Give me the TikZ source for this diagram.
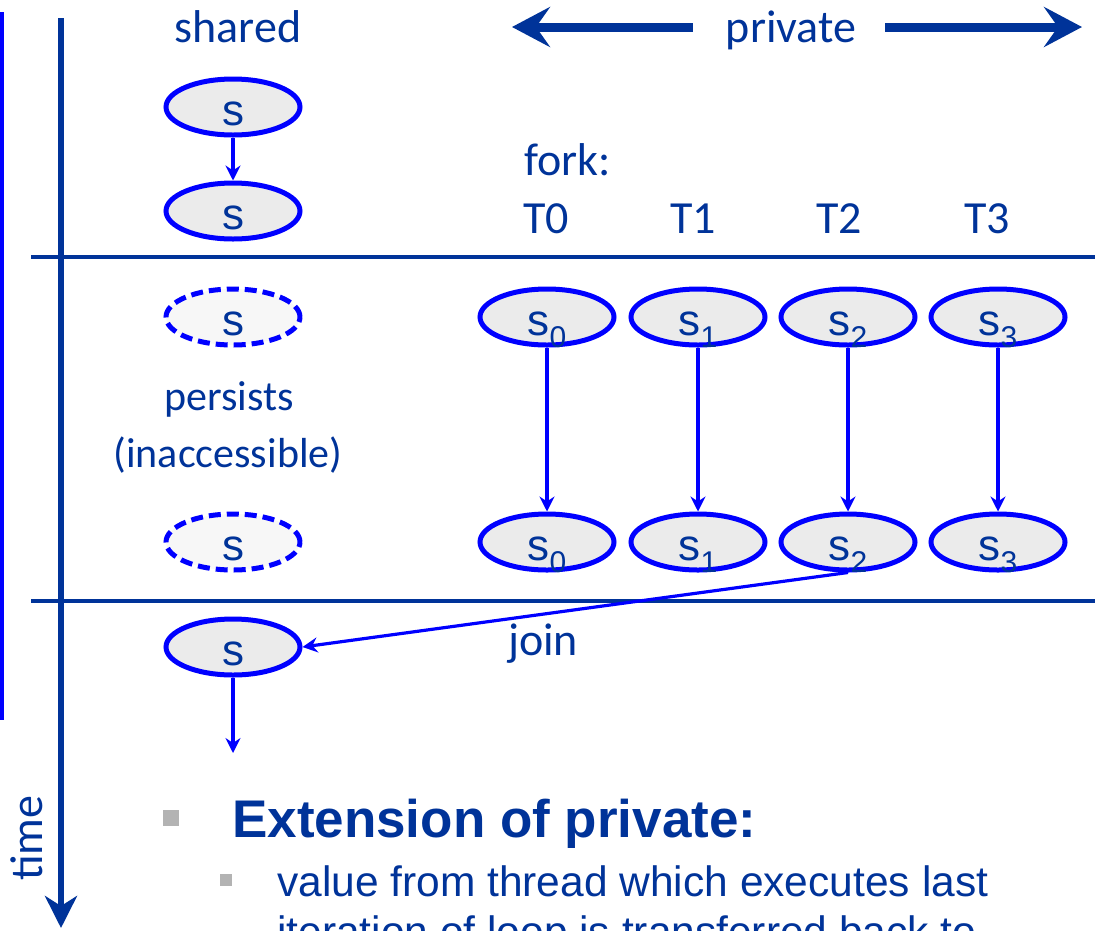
\documentclass[tikz,border=0pt]{standalone}
\usepackage{fontspec}
\setmainfont{Carlito}
\newfontfamily\arialfont{Liberation Sans}
\usepackage{xcolor}
\usepackage{tikz}
\usetikzlibrary{shapes,arrows.meta}
\usetikzlibrary{positioning}
\tikzset{>=Stealth}
\definecolor{dkblue}{RGB}{0,51,153}
\definecolor{varfill}{RGB}{235,235,235}
\definecolor{ghostfill}{RGB}{247,247,247}
\definecolor{bulletgray}{RGB}{179,179,179}
\newcommand{\ssub}[1]{s\smash{\raisebox{-12pt}{\fontsize{30}{30}\selectfont #1}}}

\begin{document}
\begin{tikzpicture}[x=1pt,y=-1pt,
      var/.style={ellipse,
      draw=blue,
      line width=5pt,
      fill=varfill,
      inner sep=0pt,
      minimum width=134pt,
      minimum height=56pt,
      text height=37pt, text depth=0pt,
      text=dkblue,
      font=\arialfont\fontsize{44}{44}\selectfont},
      ghost/.style={var, dash pattern=on 12pt off 6pt, fill=ghostfill},
      label/.style={text=dkblue, inner sep=0pt, font=\fontsize{46}{46}\selectfont},
      line/.style={draw=blue, line width=3.2pt, -{Stealth[length=15pt,width=15pt,inset=5pt]}},
      rule/.style={draw=dkblue, line width=3.5pt},
      axis/.style={draw=dkblue, line width=6pt, -{Stealth[length=32pt,width=32pt,inset=10pt]}},
      bigarrow/.style={draw=dkblue, line width=9pt, -{Stealth[length=38pt,width=40pt,inset=14pt]}},
      bullet/.style={fill=bulletgray, draw=none, inner sep=0pt}]
    \clip (0,0) rectangle (1095,930);
    %% axes and rules
    \coordinate (b0) at (2,12);
    \coordinate (b1) at (2,720);
    \draw [draw=blue, line width=4pt] (b0) -- (b1);
    \coordinate (t0) at (61,18);
    \coordinate (t1) at (61,928);
    \path [axis] (t0) -- (t1);
    \node [label, rotate=90] (time) at (27,838) {time};
    \coordinate (r1a) at (31,257);
    \coordinate (r1b) at (1095,257);
    \coordinate (r2a) at (31,601);
    \coordinate (r2b) at (1095,601);
    \path [rule] (r1a) -- (r1b);
    \path [rule] (r2a) -- (r2b);
    %% headings
    \node [label, anchor=base] (shared) at (238,42) {shared};
    \node [label, anchor=base] (priv) at (791,42) {private};
    \coordinate (pl) at (512,27);
    \coordinate (pr) at (1082,27);
    \path [bigarrow] ([xshift=-33pt,yshift=15pt]priv.base west) -- (pl);
    \path [bigarrow] ([xshift=29pt,yshift=15pt]priv.base east) -- (pr);
    \node [label, anchor=base west] (fork) at (524,175) {fork:};
    \node [label, anchor=base] (T0) at (546,233) {T0};
    \node [label, anchor=base] (T1) at (693,233) {T1};
    \node [label, anchor=base] (T2) at (839,233) {T2};
    \node [label, anchor=base] (T3) at (987,233) {T3};
    %% shared before the region
    \node [var] (S1) at (233,107) {s};
    \node [var] (S2) at (233,211) {s};
    \path [line] (S1) -- (S2);
    %% inside the region
    \node [ghost] (G1) at (233,317) {s};
    \node [ghost] (G2) at (233,542) {s};
    \node [label, anchor=base, font=\fontsize{42}{42}\selectfont] (pers) at (229,410) {persists};
    \node [label, anchor=base, font=\fontsize{42}{42}\selectfont] (inacc) at (228,467) {(inaccessible)};
    \node [var] (P0) at (547,317) {\ssub{0}};
    \node [var] (P1) at (698,317) {\ssub{1}};
    \node [var] (P2) at (848,317) {\ssub{2}};
    \node [var] (P3) at (998,317) {\ssub{3}};
    \node [var] (Q0) at (547,542) {\ssub{0}};
    \node [var] (Q1) at (698,542) {\ssub{1}};
    \node [var] (Q2) at (848,542) {\ssub{2}};
    \node [var] (Q3) at (998,542) {\ssub{3}};
    \path [line] (P0) -- (Q0);
    \path [line] (P1) -- (Q1);
    \path [line] (P2) -- (Q2);
    \path [line] (P3) -- (Q3);
    %% join
    \node [var] (J) at (233,647) {s};
    \path [line] (Q2.south) -- (J.east);
    \node [label, anchor=base] (join) at (543,655) {join};
    \coordinate (jend) at (233,753);
    \path [line] (J) -- (jend);
    %% bullets
    \node [bullet, minimum size=16pt] (B1) at (171,818) {};
    \node [anchor=base west, inner sep=0pt, text=dkblue,
      font=\arialfont\bfseries\fontsize{53}{53}\selectfont] (ext) at (232,837) {Extension of private:};
    \node [bullet, minimum size=12pt] (B2) at (226,880) {};
    \node [anchor=base west, inner sep=0pt, text=dkblue,
      font=\arialfont\fontsize{42.5}{42.5}\selectfont] (val1) at (277,896) {value from thread which executes last};
    \node [anchor=base west, inner sep=0pt, text=dkblue,
      font=\arialfont\fontsize{42.5}{42.5}\selectfont] (val2) at (277,946) {iteration of loop is transferred back to};
  \end{tikzpicture}
\end{document}
